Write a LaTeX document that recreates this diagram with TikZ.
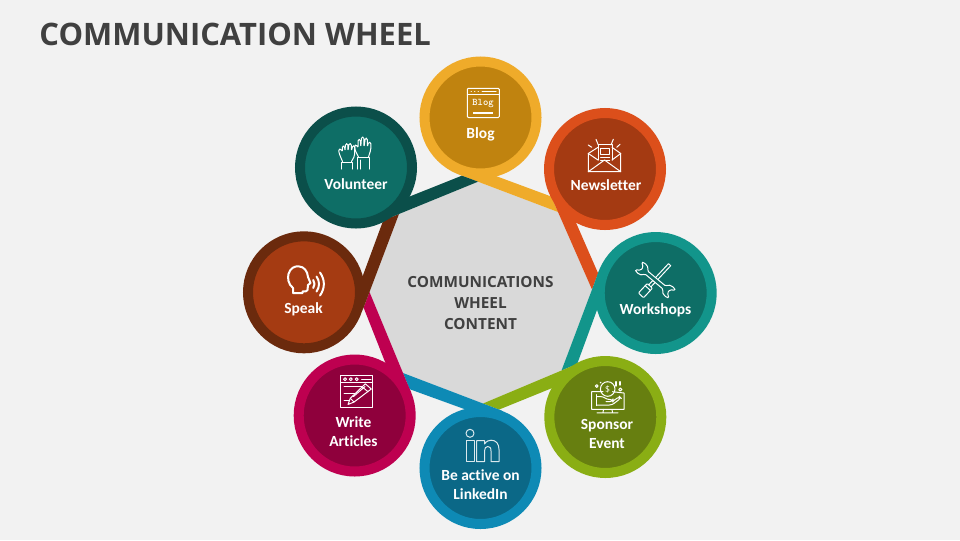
\documentclass[tikz,border=0pt]{standalone}
\usepackage{fontspec}
\setmainfont{Open Sans}
\newfontfamily\capfont[Ligatures=NoCommon]{Carlito}
\usepackage{tikz}
\usetikzlibrary{shapes,positioning,calc}
\definecolor{pagegray}{HTML}{F2F2F2}
\definecolor{hubgray}{HTML}{D9D9D9}
\definecolor{inkgray}{HTML}{404040}
\definecolor{blogA}{HTML}{EFAB2A}\definecolor{blogB}{HTML}{C0830F}
\definecolor{newsA}{HTML}{DC4F1B}\definecolor{newsB}{HTML}{A43A12}
\definecolor{workA}{HTML}{12958B}\definecolor{workB}{HTML}{0E6E66}
\definecolor{spoA}{HTML}{8AAE14}\definecolor{spoB}{HTML}{677F10}
\definecolor{linkA}{HTML}{0E8AB5}\definecolor{linkB}{HTML}{0B6887}
\definecolor{artA}{HTML}{BE0050}\definecolor{artB}{HTML}{8F003C}
\definecolor{speakA}{HTML}{6B2A0D}\definecolor{speakB}{HTML}{A53B12}
\definecolor{volA}{HTML}{0B4F4A}\definecolor{volB}{HTML}{0E6E66}
\tikzset{
	disc/.style={circle,inner sep=0pt,minimum size=84pt,line width=7.5pt},
	disctext/.style={text=white,font=\capfont\fontsize{11.6pt}{14.25pt}\selectfont\bfseries,align=center},
	icon/.style={draw=white,line width=0.75pt,line cap=round,line join=round},
	thickicon/.style={icon,line width=1.5pt}
}
\begin{document}
\begin{tikzpicture}[x=0.75pt,y=-0.75pt]
	\useasboundingbox (0,0) rectangle (960,540);
	\fill[pagegray] (0,0) rectangle (960,540);
	\node[anchor=west,text=inkgray,font=\fontsize{23.2pt}{28pt}\selectfont\bfseries,inner sep=0pt] (title) at (39.2,34.5) {COMMUNICATION WHEEL};
	% hub corners, clockwise from the right
	\coordinate (v0) at (592,289.5);
	\coordinate (v1) at (561.5,370.5);
	\coordinate (v2) at (483,403.5);
	\coordinate (v3) at (403,373);
	\coordinate (v4) at (369.5,292);
	\coordinate (v5) at (399,214);
	\coordinate (v6) at (478,181.7);
	\coordinate (v7) at (558,212);
	\fill[hubgray] (v0) -- (v1) -- (v2) -- (v3) -- (v4) -- (v5) -- (v6) -- (v7) -- cycle;
	\node[text=inkgray,font=\fontsize{11.5pt}{16.1pt}\selectfont\bfseries,align=center] (hub) at (480.5,303) {COMMUNICATIONS\\WHEEL\\CONTENT};
	% tails
	\foreach \c/\b/\a/\n/\col in {v5/v6/v7/v0/blogA,v6/v7/v0/v1/newsA,v7/v0/v1/v2/workA,v0/v1/v2/v3/spoA,v1/v2/v3/v4/linkA,v2/v3/v4/v5/artA,v3/v4/v5/v6/speakA,v4/v5/v6/v7/volA}
		\fill[\col] (\a) -- ($(\b)!-0.24!(\a)$) -- ($(\b)!-0.2!(\c)$) -- ($(\a)!-0.2!(\n)$) -- cycle;
	% discs
	\node[disc,draw=blogA,fill=blogB] (blog) at (480.5,117.5) {};
	\node[disc,draw=newsA,fill=newsB] (news) at (605,169) {};
	\node[disc,draw=workA,fill=workB] (work) at (655.7,293) {};
	\node[disc,draw=spoA,fill=spoB] (spon) at (605.3,417) {};
	\node[disc,draw=linkA,fill=linkB] (link) at (480.5,468) {};
	\node[disc,draw=artA,fill=artB] (arts) at (354.7,415.5) {};
	\node[disc,draw=speakA,fill=speakB] (spk) at (304,292.3) {};
	\node[disc,draw=volA,fill=volB] (vol) at (356,167.5) {};
	% labels
	\node[disctext] (l1) at (480.5,134) {Blog};
	\node[disctext] (l2) at (606,185) {Newsletter};
	\node[disctext] (l3) at (655.5,310) {Workshops};
	\node[disctext] (l4) at (607,434) {Sponsor\\Event};
	\node[disctext] (l5) at (480.5,485) {Be active on\\LinkedIn};
	\node[disctext] (l6) at (353.5,432) {Write\\Articles};
	\node[disctext] (l7) at (303.5,309.5) {Speak};
	\node[disctext] (l8) at (356,184) {Volunteer};
	% blog icon
	\draw[icon,rounded corners=0.8pt] (467.3,88.3) rectangle (499.3,117.5);
	\draw[icon] (467.3,94.3) -- (499.3,94.3);
	\draw[icon] (471,91.3) -- (471.4,91.3) (474.5,91.3) -- (474.9,91.3) (478,91.3) -- (478.4,91.3) (482,91.3) -- (496,91.3);
	\draw[thickicon,line cap=butt] (473.3,113.2) -- (492.7,113.2);
	\node[text=white,font=\ttfamily\bfseries\fontsize{7.6pt}{8pt}\selectfont,inner sep=0pt] (blogword) at (483,104) {Blog};
	% newsletter icon
	\draw[icon] (598,160) -- (598,144) -- (612,144) -- (612,160);
	\draw[icon] (598,147.3) -- (588.3,153.5) -- (588.3,171.7) -- (620.7,171.7) -- (620.7,153.5) -- (612,147.3);
	\draw[icon] (588.3,171.7) -- (604.5,160) -- (620.7,171.7);
	\draw[icon] (588.3,153.5) -- (598,160) (620.7,153.5) -- (612,160);
	\draw[icon] (600.5,148) rectangle (609.5,154);
	\draw[icon] (600.5,157) -- (609.5,157) (600.5,160) -- (603,160) (606,160) -- (609.5,160);
	\draw[icon] (596,139.3) -- (598.3,145) (613.3,139.3) -- (611,145) (588.3,145) -- (591.7,147.3) (620,144.3) -- (616.7,147.3);
	% volunteer icon
	\draw[icon] (341,169) -- (341,162) -- (352,162) -- (352,169);
	\draw[icon,rounded corners=1pt] (342.5,161.5) -- (339,153) -- (338.7,149) -- (341,149) -- (342.5,152) -- (342.3,146) -- (344.5,146) -- (345,151) -- (345.5,143.7) -- (347.8,143.7) -- (348,151) -- (349,143.5) -- (351.3,143.7) -- (351.3,151) -- (352.8,145.5) -- (355,146) -- (354.5,152) -- (354.5,156) -- (351.5,161.5);
	\draw[icon] (357,169) -- (357,157.5) -- (369.5,157.5) -- (369.5,169) (360.5,169) -- (360.5,160);
	\draw[icon,rounded corners=1pt] (358.5,157) -- (355,150) -- (354.3,145.5) -- (356.5,144.7) -- (358,148) -- (358,139.5) -- (360.3,139.3) -- (360.8,147) -- (361.5,137) -- (363.8,137) -- (364,147) -- (365.3,138) -- (367.3,138.3) -- (367.3,147) -- (368.6,142) -- (371,142.5) -- (370.7,150) -- (368.5,157);
	% speak icon
	\draw[thickicon] (293,293) -- (293,288) .. controls (288,284) and (287.5,278) .. (288.5,274) .. controls (290,268) and (295,266) .. (298.5,266.3) .. controls (304,266.5) and (307.5,271) .. (308,277) -- (310.5,283) -- (308,285) -- (307.5,290) .. controls (307.5,291.5) and (305,291.5) .. (302.5,291.5) -- (302.5,293) -- cycle;
	\draw[thickicon] (313.2,280) to[bend left=35] (313.2,288);
	\draw[thickicon] (316.5,276.5) to[bend left=35] (316.5,291.5);
	\draw[thickicon] (320,272.5) to[bend left=35] (320,295.5);
	% workshops icon
	\begin{scope}[shift={(655.3,280)},rotate=47]
		\draw[icon,rounded corners=0.7pt] (-21,-3.5) rectangle (-8,3.5);
		\draw[icon] (-11,-3.5) -- (-11,3.5);
		\draw[icon] (-8,-1.5) -- (17,-1.5) -- (21,-1.5) -- (21,1.5) -- (-8,1.5);
	\end{scope}
	\begin{scope}[shift={(655.3,280)},rotate=-40]
		\draw[icon,fill=workB,rounded corners=1pt] (-12,-2) -- (12,-2) -- (13,-4.5) -- (16,-6) -- (20,-6) -- (22,-5) -- (17.5,-2) -- (17.5,2) -- (22,5) -- (20,6) -- (16,6) -- (13,4.5) -- (12,2) -- (-12,2) -- (-13,4.5) -- (-16,6) -- (-20,6) -- (-22,5) -- (-17.5,2) -- (-17.5,-2) -- (-22,-5) -- (-20,-6) -- (-16,-6) -- (-13,-4.5) -- cycle;
	\end{scope}
	% sponsor icon
	\draw[icon] (603,391.7) -- (591.7,391.7) -- (591.7,409.3) -- (624,409.3) -- (624,393) -- (612.5,391.7);
	\draw[icon] (603.5,409.3) -- (603,412.5) (612,409.3) -- (612.5,412.5) (597,412.8) -- (618,412.8);
	\draw[icon] (607.7,389) circle (7.3);
	\node[text=white,font=\fontsize{6.5pt}{7pt}\selectfont,inner sep=0pt] (coinmark) at (607.7,389) {\$};
	\draw[icon] (596.5,394.5) -- (596.5,405.5);
	\draw[icon,rounded corners=2pt] (596.5,396.5) -- (603,396.5) -- (607,399.5) -- (613,399.5) -- (613,401.5) -- (606,401.5);
	\draw[icon,rounded corners=2pt] (613,401) -- (619.5,396.5) -- (621,398) -- (612,405) -- (596.5,405);
	\draw[icon] (596.7,386) circle (1.4) (600.7,382.5) circle (0.4) (620.3,389.5) circle (1.6);
	\draw[thickicon,line width=1pt] (616,381.7) -- (616,386) (620,381.7) -- (620,385);
	% linkedin icon
	\draw[icon,draw=white!85!linkB] (470,433.3) circle (4);
	\draw[icon,draw=white!85!linkB] (466,440.7) rectangle (474,461.7);
	\draw[icon,draw=white!85!linkB] (476.7,461.7) -- (476.7,440.7) -- (484.5,440.7) -- (484.5,444) .. controls (486.5,441) and (489,440.2) .. (491,440.2) .. controls (496,440.2) and (499,443.5) .. (499,449.5) -- (499,461.7) -- (491,461.7) -- (491,451) .. controls (491,447.5) and (489.5,446.5) .. (487.8,446.5) .. controls (485.8,446.5) and (484.5,448) .. (484.5,451) -- (484.5,461.7) -- cycle;
	% write articles icon
	\draw[icon] (340.7,375.7) rectangle (372.7,407.3);
	\draw[icon] (340.7,382.7) -- (372.7,382.7);
	\draw[icon] (345,379.2) circle (1.5) (350.8,379.2) circle (1.5) (356.7,379.2) circle (1.5);
	\draw[icon] (361.7,379.2) -- (371,379.2);
	\draw[icon] (344,386.7) -- (361.7,386.7) (344,393) -- (355,393) (344,400) -- (349.5,400);
	\draw[icon] (348,404.5) -- (350.3,398.3) -- (365.3,383.8) -- (371.3,389) -- (354,402) -- cycle;
	\draw[icon] (362,386.7) -- (368,391.7) (350.3,398.3) -- (354,402) (353.5,396.5) -- (365,386.5);
\end{tikzpicture}
\end{document}
